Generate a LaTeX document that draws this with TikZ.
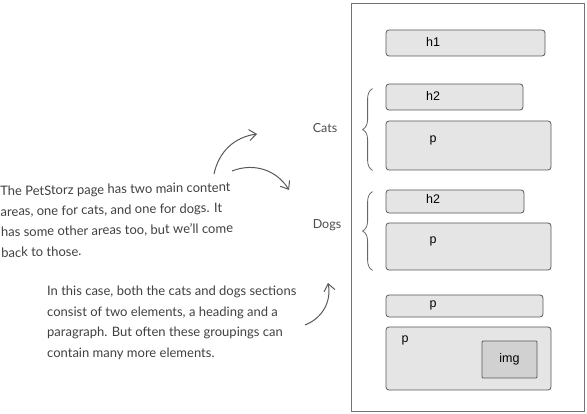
\documentclass[tikz,border=0pt]{standalone}
\usepackage{fontspec}
\setmainfont{Lato}
\newfontfamily\boxfont{Liberation Sans}
\usetikzlibrary{positioning,arrows.meta,decorations.pathreplacing}

\begin{document}
\begin{tikzpicture}[x=1pt,y=-1pt,
  box/.style={draw=black!65,fill=black!10,line width=0.8pt,rounded corners=3pt,inner sep=0pt},
  imgbox/.style={box,fill=black!18,rounded corners=1pt},
  tag/.style={font=\boxfont\fontsize{12.5}{14}\selectfont,inner sep=0pt},
  note/.style={font=\fontsize{13}{20.5}\selectfont,text=black!75,align=left,inner sep=0pt},
  group/.style={font=\fontsize{12.5}{14}\selectfont,text=black!70,inner sep=0pt},
  curly/.style={draw=black!60,line width=0.8pt,decorate,decoration={brace,amplitude=10pt}},
  pointer/.style={draw=black!65,line width=1pt,-{Straight Barb[length=7pt,width=11pt]}}]
\useasboundingbox (0,0) rectangle (587,414);

% the page
\node[draw=black!55,line width=0.9pt,minimum width=233pt,minimum height=408pt,inner sep=0pt]
  (page) at (467.5,207) {};

% boxes on the page
\node[box,minimum width=159pt,minimum height=26pt] (h1) at (465.5,43) {};
\node[box,minimum width=137pt,minimum height=26pt] (catsh2) at (454.5,97) {};
\node[box,minimum width=165pt,minimum height=49pt] (catsp) at (468.5,145.5) {};
\node[box,minimum width=138pt,minimum height=23pt] (dogsh2) at (455,201.5) {};
\node[box,minimum width=165pt,minimum height=47pt] (dogsp) at (468.5,246.5) {};
\node[box,minimum width=157pt,minimum height=22pt] (para) at (464.5,306) {};
\node[box,minimum width=165pt,minimum height=63pt] (bigpara) at (468.5,358.5) {};
\node[imgbox,minimum width=55pt,minimum height=37pt] (img) at (509.5,359.5) {};

% their labels
\node[tag] at (433,42) {h1};
\node[tag] at (433,96) {h2};
\node[tag] at (433,140) {p};
\node[tag] at (433,199) {h2};
\node[tag] at (433,241) {p};
\node[tag] at (433,305) {p};
\node[tag] at (405,340) {p};
\node[tag] at (img) {img};

% groups
\draw[curly] ([xshift=-13pt]catsp.south west) -- ([xshift=-13pt,yshift=-5pt]catsh2.north west);
\draw[curly] ([xshift=-13pt]dogsp.south west) -- ([xshift=-13pt,yshift=-2pt]dogsh2.north west);
\node[group] (cats) at (325,128) {Cats};
\node[group] (dogs) at (327,225) {Dogs};

% notes
\node[note,anchor=north west,rotate=1] (areas) at (0,186)
  {The PetStorz page has two main content\\
   areas, one for cats, and one for dogs. It\\
   has some other areas too, but we'll come\\
   back to those.};
\node[note,anchor=north west] (groupings) at (47,286)
  {In this case, both the cats and dogs sections\\
   consist of two elements, a heading and a\\
   paragraph. But often these groupings can\\
   contain many more elements.};

\coordinate (toc) at (214,174);
\coordinate (tod) at (232,171);
\coordinate (up) at (305,325);
\draw[pointer] (toc) to[bend left=35] (257,134);
\draw[pointer] (tod) to[bend left=40] (289,190);
\draw[pointer] (up) to[bend right=40] (328,283);
\end{tikzpicture}
\end{document}
